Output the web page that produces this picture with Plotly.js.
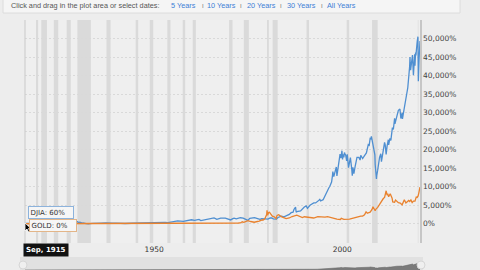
<!DOCTYPE html>
<html>
<head>
<meta charset="utf-8">
<script src="https://cdn.plot.ly/plotly-3.0.1.min.js"></script>
<style>html,body{margin:0;padding:0;background:#ededed;}#chart{width:480px;height:270px;}</style>
</head>
<body>
<div id="chart"></div>
<script>
// ---- DATA ----
const djiaDates = ["1915-09","1915-12","1916-11","1917-12","1918-10","1919-11","1920-12","1921-08","1922-10","1923-10","1924-12","1925-12","1926-03","1926-12","1927-12","1928-12","1929-09","1929-11","1930-04","1930-12","1931-02","1931-12","1932-07","1933-07","1934-07","1935-12","1937-03","1938-03","1938-11","1939-12","1940-06","1941-12","1942-04","1943-12","1944-12","1945-12","1946-05","1946-10","1948-06","1949-06","1950-12","1951-12","1952-12","1953-09","1954-12","1955-12","1956-04","1957-10","1958-12","1959-12","1960-10","1961-12","1962-06","1963-12","1964-12","1965-12","1966-09","1967-09","1968-12","1969-06","1970-05","1970-12","1971-04","1971-11","1972-12","1973-09","1974-09","1974-12","1975-06","1976-09","1977-12","1978-03","1978-08","1979-10","1980-04","1980-11","1981-04","1981-09","1982-07","1982-12","1983-11","1984-07","1984-12","1985-12","1986-06","1986-12","1987-03","1987-08","1987-10","1987-12","1988-12","1989-09","1989-12","1990-06","1990-10","1991-06","1991-12","1992-06","1992-12","1993-06","1993-12","1994-01","1994-04","1994-12","1995-03","1995-06","1995-09","1995-12","1996-03","1996-06","1996-09","1996-12","1997-03","1997-06","1997-07","1997-10","1997-12","1998-03","1998-06","1998-08","1998-09","1998-12","1999-03","1999-05","1999-06","1999-09","1999-12","2000-02","2000-03","2000-06","2000-08","2000-10","2000-12","2001-03","2001-05","2001-09","2001-12","2002-03","2002-07","2002-09","2002-11","2003-02","2003-06","2003-12","2004-06","2004-10","2004-12","2005-06","2005-12","2006-06","2006-12","2007-03","2007-06","2007-08","2007-10","2007-12","2008-03","2008-06","2008-09","2008-10","2008-11","2009-02","2009-03","2009-06","2009-09","2009-12","2010-04","2010-06","2010-12","2011-04","2011-06","2011-09","2011-12","2012-04","2012-05","2012-09","2012-12","2013-05","2013-08","2013-12","2014-01","2014-06","2014-12","2015-05","2015-08","2015-12","2016-01","2016-06","2016-12","2017-06","2017-12","2018-01","2018-03","2018-09","2018-12","2019-04","2019-05","2019-07","2019-08","2019-12","2020-02-12","2020-03-23","2020-04","2020-06","2020-08-31"];
const djiaPct = [60,64,90,28,50,105,24,10,74,50,74,170,140,165,245,417,555,300,405,185,220,35,-28,83,60,162,222,70,165,160,110,90,60,125,165,238,265,176,225,187,252,345,358,320,590,738,765,650,870,1073,900,1160,868,1180,1375,1560,1180,1490,1530,1300,1030,1360,1520,1300,1620,1510,960,900,1475,1650,1260,1180,1400,1290,1250,1550,1560,1310,1260,1700,2050,1840,2020,2510,2980,3140,3850,4490,3100,3260,3460,4500,4530,4830,4170,5000,5330,5610,5610,5950,6440,6700,6150,6500,7067,7755,8157,8722,9533,9648,10041,11017,11250,13128,14076,12731,13534,15071,15334,12898,13422,15729,16772,18105,18814,17722,19722,17362,18731,17914,19236,18815,18498,16933,18714,15155,17179,17838,14964,12990,15238,13505,15391,17924,17890,17188,18491,17615,18379,19124,21388,21200,23017,22931,23600,22770,21043,19469,18608,15977,15122,12077,13019,14464,16645,17879,18881,16752,19862,21988,21303,18716,20965,22683,21267,23067,22493,25961,25434,28480,26967,28911,30629,30953,28396,29943,28290,30814,33974,36710,42519,44984,41457,45518,40119,45750,42684,46217,45422,49103,50500,38500,41876,44405,49300];

const goldDates = ["1915-09","1933-03","1933-09","1934-01","1967-12","1968-06","1969-03","1970-01","1971-06","1971-12","1972-06","1972-12","1973-06","1973-11","1974-06","1974-12","1975-09","1976-08","1977-06","1977-12","1978-10","1978-12","1979-06","1979-10","1979-12","1980-01","1980-03","1980-06","1980-09","1980-12","1981-06","1981-12","1982-06","1982-09","1983-02","1983-12","1984-06","1984-12","1985-02","1985-12","1986-09","1987-12","1988-12","1989-06","1989-12","1990-08","1991-06","1992-06","1993-07","1994-06","1995-06","1996-02","1996-12","1997-12","1998-08","1999-07","1999-10","2000-06","2001-03","2001-12","2002-06","2002-12","2003-06","2003-12","2004-06","2004-12","2005-06","2005-12","2006-05","2006-09","2006-12","2007-06","2007-12","2008-03","2008-10","2008-12","2009-06","2009-12","2010-06","2010-12","2011-04","2011-08","2011-09","2011-12","2012-02","2012-05","2012-10","2013-04","2013-06","2013-12","2014-03","2014-12","2015-06","2015-12","2016-07","2016-12","2017-09","2017-12","2018-04","2018-08","2018-12","2019-05","2019-09","2019-12","2020-03","2020-05","2020-07","2020-08-31"];
const goldPct = [0,0,40,69,69,95,110,70,95,110,200,215,520,400,610,830,600,410,600,690,1060,960,1330,1900,2500,3600,2300,3000,3100,2750,2060,1880,1380,2250,2450,1870,1690,1420,1370,1550,1950,2300,1920,1640,1880,1830,1600,1550,1900,1760,1760,1900,1690,1300,1250,1150,1450,1200,1150,1250,1410,1550,1660,1880,1840,2050,2050,2400,3200,2850,2960,3110,3850,4600,3500,3900,4400,5300,5900,6800,7100,8700,8900,7700,8100,7300,8100,6900,5900,5800,6400,5700,5600,5100,6500,5600,6300,6000,6400,5700,6100,6100,7200,7100,7500,8200,9000,9900];

const recStart = ["1918-08","1920-01","1923-05","1926-10","1929-08","1937-05","1945-02","1948-11","1953-07","1957-08","1960-04","1969-12","1973-11","1980-01","1981-07","1990-07","2001-03","2007-12","2020-02"];
const recEnd   = ["1919-03","1921-07","1924-07","1927-11","1933-03","1938-06","1945-10","1949-10","1954-05","1958-04","1961-02","1970-11","1975-03","1980-07","1982-11","1991-03","2001-11","2009-06","2020-04"];

const yTickVals = [0,5000,10000,15000,20000,25000,30000,35000,40000,45000,50000];
const yTickText = ["0%","5,000%","10,000%","15,000%","20,000%","25,000%","30,000%","35,000%","40,000%","45,000%","50,000%"];
const xTickVals = ["1950-01-01","2000-01-01"];
const xTickText = ["1950","2000"];
const seriesNames = ["DJIA","GOLD"];
const hoverLabel = {date:"Sep, 1915", djia:"60%", gold:"0%"};
const headerText = "Click and drag in the plot area or select dates:";
const rangeLinks = ["5 Years","10 Years","20 Years","30 Years","All Years"];

// ---- LAYOUT HELPERS ----
const W=480,H=270,L=25,R=60,T=20,B=0;
const pw=W-L-R, ph=H-T-B;
const px=x=>(x-L)/pw;
const py=y=>(H-y)/ph;

const xRange=["1915-09-01","2020-08-31"];
const blue="#4f8fd1", orange="#e9822e";

const traces=[
  {x:djiaDates,y:djiaPct,name:seriesNames[0],type:"scatter",mode:"lines",line:{color:blue,width:1.3},hoverinfo:"skip"},
  {x:goldDates,y:goldPct,name:seriesNames[1],type:"scatter",mode:"lines",line:{color:orange,width:1.3},hoverinfo:"skip"},
  {x:djiaDates,y:djiaPct,xaxis:"x2",yaxis:"y2",type:"scatter",mode:"lines",fill:"tozeroy",fillcolor:"#7a7a7a",line:{color:"#6a6a6a",width:0.6},hoverinfo:"skip",showlegend:false}
];

const shapes=[];
shapes.push({type:"rect",xref:"paper",yref:"paper",x0:px(20),x1:px(423),y0:0,y1:py(257),fillcolor:"#e1e1e1",line:{width:0},layer:"below"});
for(let i=0;i<recStart.length;i++){
  shapes.push({type:"rect",xref:"x",yref:"y domain",x0:recStart[i],x1:recEnd[i],y0:0,y1:1,fillcolor:"#dadada",line:{width:0},layer:"below"});
}
shapes.push({type:"line",xref:"paper",yref:"y domain",x0:0,x1:0,y0:0,y1:1,line:{color:"#c9c9c9",width:1}});
shapes.push({type:"rect",xref:"paper",yref:"paper",x0:px(3),x1:px(460),y0:py(13),y1:py(-2),fillcolor:"#f5f5f5",line:{color:"#dcdcdc",width:1}});
shapes.push({type:"circle",xref:"paper",yref:"paper",x0:px(19),x1:px(27),y0:py(269),y1:py(261),fillcolor:"#efefef",line:{color:"#d6d6d6",width:1}});
shapes.push({type:"circle",xref:"paper",yref:"paper",x0:px(417),x1:px(425),y0:py(269),y1:py(261),fillcolor:"#efefef",line:{color:"#d6d6d6",width:1}});
const cur=[[25,223],[25,231],[27,229],[28.5,232],[30,231.3],[28.5,228.5],[31,228.5]];
shapes.push({type:"path",xref:"paper",yref:"paper",path:"M"+cur.map(p=>px(p[0]).toFixed(5)+","+py(p[1]).toFixed(5)).join(" L")+" Z",fillcolor:"#000",line:{color:"#fff",width:0.8}});

const hf="Liberation Sans, Arial, sans-serif";
const df="DejaVu Sans, Verdana, sans-serif";
const annotations=[];
annotations.push({xref:"paper",yref:"paper",x:px(9),y:py(5.7),xanchor:"left",yanchor:"middle",text:headerText,showarrow:false,font:{family:hf,size:7.3,color:"#555"}});
const linkX=[169,205,244.5,285,325];
const sepX=[202.5,240.5,281,321.5];
rangeLinks.forEach((t,i)=>{
  annotations.push({xref:"paper",yref:"paper",x:px(linkX[i]),y:py(5.7),xanchor:"left",yanchor:"middle",text:t,showarrow:false,font:{family:hf,size:7.3,color:"#3d7fd6"}});
});
sepX.forEach(x=>{
  annotations.push({xref:"paper",yref:"paper",x:px(x),y:py(5.7),xanchor:"center",yanchor:"middle",text:"I",showarrow:false,font:{family:hf,size:6,color:"#777"}});
});
annotations.push({xref:"paper",yref:"paper",x:px(28),y:py(212),xanchor:"left",yanchor:"middle",text:seriesNames[0]+": "+hoverLabel.djia+"   ",showarrow:false,align:"left",font:{family:df,size:7,color:"#333"},bgcolor:"#f6f6f6",bordercolor:"#8db3dc",borderwidth:1,borderpad:1.5});
annotations.push({xref:"paper",yref:"paper",x:px(29.3),y:py(225.5),xanchor:"left",yanchor:"middle",text:seriesNames[1]+": "+hoverLabel.gold+"   ",showarrow:false,align:"left",font:{family:df,size:7,color:"#333"},bgcolor:"#f6f6f6",bordercolor:"#e3b588",borderwidth:1,borderpad:1.5});
annotations.push({xref:"paper",yref:"paper",x:px(22.7),y:py(250.3),xanchor:"left",yanchor:"middle",text:"<b>"+hoverLabel.date+"</b>",showarrow:false,font:{family:df,size:7,color:"#fff"},bgcolor:"#121212",borderpad:2});

const layout={
  width:W,height:H,
  margin:{l:L,r:R,t:T,b:B,pad:0},
  paper_bgcolor:"#ededed",plot_bgcolor:"#efefef",
  showlegend:false,
  xaxis:{type:"date",range:xRange,domain:[0,1],anchor:"y",tickmode:"array",tickvals:xTickVals,ticktext:xTickText,showgrid:false,zeroline:false,ticks:"",showline:false,tickfont:{family:df,size:7.5,color:"#333"}},
  yaxis:{side:"right",domain:[27/ph,1],range:[-5200,55000],tickmode:"array",tickvals:yTickVals,ticktext:yTickText,showgrid:true,gridcolor:"#d9d9d9",griddash:"2px,2px",gridwidth:1,zeroline:false,ticks:"",showline:true,linecolor:"#c6c6c6",linewidth:1.5,tickfont:{family:df,size:7.5,color:"#444"}},
  xaxis2:{type:"date",range:xRange,domain:[0,1],anchor:"y2",visible:false},
  yaxis2:{domain:[0,13/ph],range:[0,100000],visible:false},
  shapes:shapes,annotations:annotations
};
Plotly.newPlot("chart",traces,layout,{staticPlot:true,displayModeBar:false});
</script>
</body>
</html>
